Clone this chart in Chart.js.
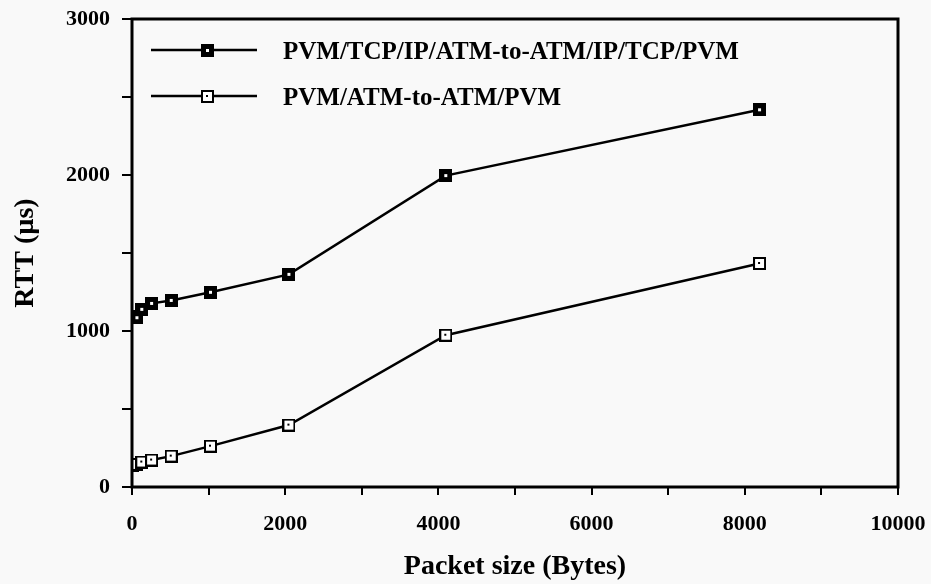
<!DOCTYPE html>
<html>
<head>
<meta charset="utf-8">
<script src="https://cdn.jsdelivr.net/npm/chart.js@4.4.1/dist/chart.umd.min.js"></script>
<style>
  html, body { margin: 0; padding: 0; background: #f9f9f9; }
  #wrap { width: 931px; height: 584px; }
</style>
</head>
<body>
<div id="wrap"><canvas id="c" width="931" height="584"></canvas></div>
<script>
// packet sizes (bytes)
var sizes = [1, 64, 128, 256, 512, 1024, 2048, 4096, 8192];
// round trip times (us)
var rttTcp = [1095, 1085, 1139, 1177, 1196, 1248, 1363, 1996, 2418];
var rttAtm = [140, 145, 160, 173, 198, 262, 397, 973, 1433];

var labelTcp = 'PVM/TCP/IP/ATM-to-ATM/IP/TCP/PVM';
var labelAtm = 'PVM/ATM-to-ATM/PVM';

var font = '"Liberation Serif", "DejaVu Serif", serif';

// square markers with a dot in the middle
function makeMarker(filled) {
    var m = document.createElement('canvas');
    m.width = 13;
    m.height = 13;
    var g = m.getContext('2d');
    g.fillStyle = '#000';
    g.fillRect(0, 0, 13, 13);
    if (filled) {
        g.fillStyle = '#fff';
        g.fillRect(5, 5, 3, 3);
    } else {
        g.fillStyle = '#fff';
        g.fillRect(2, 2, 9, 9);
        g.fillStyle = '#000';
        g.fillRect(5, 5, 2, 2);
    }
    return m;
}
var markTcp = makeMarker(true);
var markAtm = makeMarker(false);

function toPoints(xs, ys) {
    var out = [];
    for (var i = 0; i < xs.length; i++) {
        out.push({x: xs[i], y: ys[i]});
    }
    return out;
}

// frame round the plot + legend inside it
var framePlugin = {
    id: 'frame',
    afterDraw: function (chart) {
        var ctx = chart.ctx;
        var a = chart.chartArea;
        ctx.save();
        ctx.strokeStyle = '#000';
        ctx.lineWidth = 3;
        ctx.strokeRect(a.left, a.top, a.right - a.left, a.bottom - a.top);

        var rows = [
            {y: 50, mark: markTcp, text: labelTcp},
            {y: 96, mark: markAtm, text: labelAtm}
        ];
        ctx.font = 'bold 25px ' + font;
        ctx.fillStyle = '#000';
        ctx.textBaseline = 'middle';
        rows.forEach(function (r) {
            ctx.lineWidth = 2.5;
            ctx.beginPath();
            ctx.moveTo(151, r.y);
            ctx.lineTo(257, r.y);
            ctx.stroke();
            ctx.drawImage(r.mark, 201, r.y - 6);
            ctx.fillText(r.text, 283, r.y + 3);
        });
        ctx.restore();
    }
};

new Chart(document.getElementById('c'), {
    type: 'scatter',
    data: {
        datasets: [
            {
                label: labelTcp,
                data: toPoints(sizes, rttTcp),
                showLine: true,
                borderColor: '#000',
                borderWidth: 2.5,
                pointStyle: markTcp,
                pointRadius: 6
            },
            {
                label: labelAtm,
                data: toPoints(sizes, rttAtm),
                showLine: true,
                borderColor: '#000',
                borderWidth: 2.5,
                pointStyle: markAtm,
                pointRadius: 6
            }
        ]
    },
    options: {
        responsive: false,
        animation: false,
        layout: { padding: { top: 19, right: 33, left: 0, bottom: 0 } },
        plugins: {
            legend: { display: false },
            tooltip: { enabled: false }
        },
        scales: {
            x: {
                type: 'linear',
                min: 0,
                max: 10000,
                border: { display: false },
                grid: { drawOnChartArea: false, color: '#000', lineWidth: 2, tickLength: 8 },
                ticks: {
                    stepSize: 1000,
                    autoSkip: false,
                    maxRotation: 0,
                    color: '#000',
                    padding: 16,
                    font: { family: font, size: 22, weight: 'bold' },
                    callback: function (v) { return v % 2000 === 0 ? v : ''; }
                },
                title: {
                    display: true,
                    text: 'Packet size (Bytes)',
                    color: '#000',
                    font: { family: font, size: 28, weight: 'bold' },
                    padding: { top: 4, bottom: 0 }
                },
                afterFit: function (s) {
                    s.height = 97;
                    s.paddingLeft = 0;
                    s.paddingRight = 0;
                }
            },
            y: {
                min: 0,
                max: 3000,
                border: { display: false },
                grid: { drawOnChartArea: false, color: '#000', lineWidth: 2, tickLength: 10 },
                ticks: {
                    stepSize: 500,
                    autoSkip: false,
                    color: '#000',
                    padding: 12,
                    font: { family: font, size: 22, weight: 'bold' },
                    callback: function (v) { return v % 1000 === 0 ? v : ''; }
                },
                title: {
                    display: true,
                    text: 'RTT (\u00b5s)',
                    color: '#000',
                    font: { family: font, size: 28, weight: 'bold' },
                    padding: { top: 9, bottom: 8 }
                },
                afterFit: function (s) {
                    s.width = 132;
                    s.paddingTop = 0;
                    s.paddingBottom = 0;
                }
            }
        }
    },
    plugins: [framePlugin]
});
</script>
</body>
</html>
